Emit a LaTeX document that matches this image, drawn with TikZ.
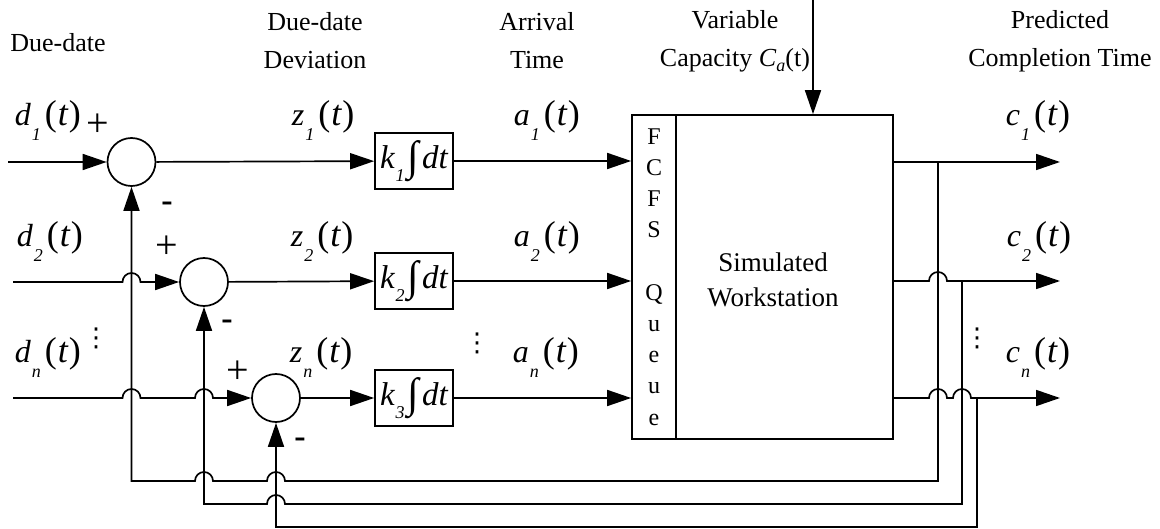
\documentclass[tikz,border=0pt]{standalone}
\usepackage{fontspec}
\setmainfont{Liberation Serif}
\newfontfamily\symfont{DejaVu Sans}
\usetikzlibrary{arrows.meta,calc}

% font size shorthand
\newcommand\fsz[1]{\fontsize{#1}{#1}\selectfont}
% signal label such as d_1(t)
\newcommand\sig[2]{{\fsz{32}\itshape #1}\kern1pt\raisebox{-15pt}{\fsz{18}\itshape #2}\kern4pt{\fsz{36}(\kern1pt\itshape t\kern1pt\upshape)}}
% integrator gain k_i \int dt
\newcommand\gain[1]{{\itshape k}\kern1pt\raisebox{-13pt}{\fsz{18}\itshape #1}\kern3pt\raisebox{-2pt}{\fsz{42}∫}\kern3pt{\itshape dt}}
% hop radius where a line jumps over another
\newcommand\hr{9}

\begin{document}
\begin{tikzpicture}[x=1pt,y=1pt,line width=1.7pt,
  every node/.style={font=\fsz{26}},
  sumnode/.style={circle,draw,minimum size=48pt,inner sep=0pt},
  gainbox/.style={draw,minimum width=78pt,minimum height=56pt,inner sep=0pt,font=\fsz{33}},
  flow/.style={-{Triangle[length=24pt,width=16pt]}},
  lbl/.style={anchor=base west,inner sep=0pt},
  hdr/.style={align=center,inner sep=0pt,font=\fontsize{26}{38}\selectfont},
  sign/.style={inner sep=0pt,font=\fsz{40}},
  neg/.style={inner sep=0pt,font=\bfseries\fsz{34}},
  dots/.style={inner sep=0pt,font=\symfont\fsz{26}}]
\useasboundingbox (0,0) rectangle (1160,-529);

% summing junctions and integrators
\node[sumnode] (s1) at (131.5,-162) {};
\node[sumnode] (s2) at (204,-282) {};
\node[sumnode] (s3) at (276,-398) {};
\node[gainbox] (k1) at (414,-161) {\gain{1}};
\node[gainbox] (k2) at (414,-281) {\gain{2}};
\node[gainbox] (k3) at (414,-398) {\gain{3}};

% queue and workstation
\node[draw,minimum width=44pt,minimum height=324pt,inner sep=0pt,align=center,
      font=\fontsize{24}{31.2}\selectfont] (q) at (654,-277)
      {F\\C\\F\\S\\\strut\\Q\\u\\e\\u\\e};
\node[draw,minimum width=217pt,minimum height=324pt,inner sep=0pt] (w) at (784.5,-277) {};
\node[align=center,inner sep=0pt,font=\fontsize{27}{35}\selectfont] (wt) at (773,-280) {Simulated\\Workstation};

% inputs, taps and outputs
\coordinate (i1) at (8,-162);
\coordinate (i2) at (13,-282);
\coordinate (i3) at (13,-398);
\coordinate (t1) at (938,-162);
\coordinate (t2) at (962,-281);
\coordinate (t3) at (977,-398);
\coordinate (o1) at (1060,-162);
\coordinate (o2) at (1060,-281);
\coordinate (o3) at (1060,-398);
\coordinate (r1) at (938,-481);
\coordinate (r2) at (962,-504);
\coordinate (r3) at (977,-527);
\coordinate (cap) at (813,0);

% forward paths
\draw[flow] (i1) -- (s1);
\draw[flow] (i2) -- ($(s1.south|-i2)+(-\hr,0)$) arc[start angle=180,end angle=0,radius=\hr] -- (s2);
\draw[flow] (i3) -- ($(s1.south|-i3)+(-\hr,0)$) arc[start angle=180,end angle=0,radius=\hr]
  -- ($(s2.south|-i3)+(-\hr,0)$) arc[start angle=180,end angle=0,radius=\hr] -- (s3);
\draw[flow] (s1) -- (k1);
\draw[flow] (s2) -- (k2);
\draw[flow] (s3) -- (k3);
\draw[flow] (k1) -- (k1-|q.west);
\draw[flow] (k2) -- (k2-|q.west);
\draw[flow] (k3) -- (k3-|q.west);
\draw[flow] (cap) -- (cap|-w.north);

% outputs
\draw[flow] (w.east|-t1) -- (o1);
\draw[flow] (w.east|-t2) -- ($(t1|-t2)+(-\hr,0)$) arc[start angle=180,end angle=0,radius=\hr] -- (o2);
\draw[flow] (w.east|-t3) -- ($(t1|-t3)+(-\hr,0)$) arc[start angle=180,end angle=0,radius=\hr]
  -- ($(t2|-t3)+(-\hr,0)$) arc[start angle=180,end angle=0,radius=\hr] -- (o3);

% feedback of completion times
\draw[flow] (t1) -- (r1) -- ($(s3.south|-r1)+(\hr,0)$) arc[start angle=0,end angle=180,radius=\hr]
  -- ($(s2.south|-r1)+(\hr,0)$) arc[start angle=0,end angle=180,radius=\hr]
  -- (s1.south|-r1) -- (s1.south);
\draw[flow] (t2) -- (r2) -- ($(s3.south|-r2)+(\hr,0)$) arc[start angle=0,end angle=180,radius=\hr]
  -- (s2.south|-r2) -- (s2.south);
\draw[flow] (t3) -- (r3) -- (s3.south|-r3) -- (s3.south);

% headings
\node[hdr] (h0) at (58,-43) {Due-date};
\node[hdr] (h1) at (315,-41) {Due-date\\Deviation};
\node[hdr] (h2) at (537,-41) {Arrival\\Time};
\node[hdr] (h3) at (735,-41) {Variable\\Capacity \textit{C}\raisebox{-5pt}{\fsz{18}\itshape a}(t)};
\node[hdr] (h4) at (1060,-41) {Predicted\\Completion Time};

% signal labels
\node[lbl] (ld1) at (14,-126) {\sig{d}{1}};
\node[lbl] (ld2) at (16,-247) {\sig{d}{2}};
\node[lbl] (ld3) at (14,-363) {\sig{d}{n}};
\node[lbl] (lz1) at (291,-126) {\sig{z}{1}};
\node[lbl] (lz2) at (290,-247) {\sig{z}{2}};
\node[lbl] (lz3) at (289,-363) {\sig{z}{n}};
\node[lbl] (la1) at (513,-126) {\sig{a}{1}};
\node[lbl] (la2) at (513,-247) {\sig{a}{2}};
\node[lbl] (la3) at (512,-363) {\sig{a}{n}};
\node[lbl] (lc1) at (1005,-126) {\sig{c}{1}};
\node[lbl] (lc2) at (1006,-247) {\sig{c}{2}};
\node[lbl] (lc3) at (1005,-363) {\sig{c}{n}};

% signs at the summing junctions
\node[sign] (p1) at (98,-125) {+};
\node[sign] (p2) at (167,-247) {+};
\node[sign] (p3) at (238,-372) {+};
\node[neg] (m1) at (167,-207) {-};
\node[neg] (m2) at (227,-325) {-};
\node[neg] (m3) at (300,-443) {-};

% continuation dots
\node[dots] (v1) at (96,-338) {⋮};
\node[dots] (v2) at (477,-343) {⋮};
\node[dots] (v3) at (977,-338) {⋮};
\end{tikzpicture}
\end{document}
